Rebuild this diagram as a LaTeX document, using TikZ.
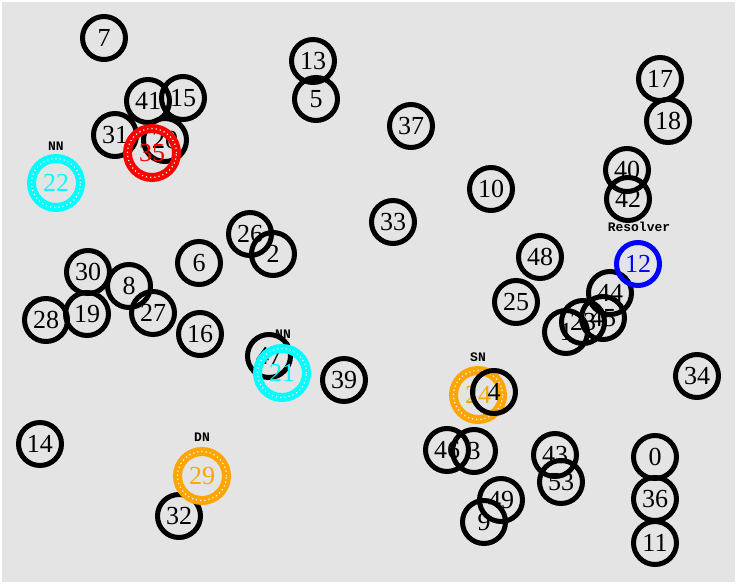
\documentclass[tikz,border=0pt]{standalone}
\usepackage{fontspec}
\setmainfont{Liberation Serif}
\newfontfamily\lblfont{Liberation Mono}
\begin{document}
\begin{tikzpicture}[x=1pt,y=-1pt,
  bn/.style={circle,draw=black,line width=5pt,minimum size=43pt,inner sep=0pt,font=\fontsize{26}{26}\selectfont,text=black},
  cn/.style={circle,draw=#1,line width=9pt,minimum size=49pt,inner sep=0pt,font=\fontsize{26}{26}\selectfont,text=#1,
     postaction={draw=white,line width=1.2pt,dash pattern=on 1.2pt off 3pt}},
  pn/.style={circle,draw=#1,line width=5pt,minimum size=43pt,inner sep=0pt,font=\fontsize{26}{26}\selectfont,text=#1},
  lbl/.style={font=\lblfont\bfseries\fontsize{13}{13}\selectfont,inner sep=0pt,text=black}]
\definecolor{bg}{HTML}{E4E4E4}
\definecolor{cy}{HTML}{00FFFF}
\definecolor{org}{HTML}{FFA500}
\definecolor{blu}{HTML}{0000FF}
\definecolor{rd}{HTML}{FF0000}
\useasboundingbox (0,0) rectangle (737,584);
\fill[white] (0,0) rectangle (737,584);
\fill[bg] (2,2) rectangle (735,582);
% black nodes
\node[bn] (n7) at (104,38) {7};
\node[bn] (n13) at (313,61) {13};
\node[bn] (n5) at (316,99) {5};
\node[bn] (n41) at (148,101) {41};
\node[bn] (n15) at (183,98) {15};
\node[bn] (n31) at (115,135) {31};
\node[bn] (n20) at (165,140) {20};
\node[bn] (n17) at (660,79) {17};
\node[bn] (n18) at (668,121) {18};
\node[bn] (n37) at (411,126) {37};
\node[bn] (n40) at (627,170) {40};
\node[bn] (n42) at (628,199) {42};
\node[bn] (n10) at (491,189) {10};
\node[bn] (n33) at (393,222) {33};
\node[bn] (n26) at (250,234) {26};
\node[bn] (n2) at (273,254) {2};
\node[bn] (n6) at (199,263) {6};
\node[bn] (n48) at (540,257) {48};
\node[bn] (n30) at (88,272) {30};
\node[bn] (n8) at (129,286) {8};
\node[bn] (n19) at (87,314) {19};
\node[bn] (n28) at (46,320) {28};
\node[bn] (n27) at (153,313) {27};
\node[bn] (n16) at (200,334) {16};
\node[bn] (n25) at (516,302) {25};
\node[bn] (n44) at (610,293) {44};
\node[bn] (n1) at (566,332) {1};
\node[bn] (n23) at (583,322) {23};
\node[bn] (n45) at (603,318) {45};
\node[bn] (n47) at (269,356) {47};
\node[bn] (n39) at (344,380) {39};
\node[bn] (n34) at (697,376) {34};
\node[bn] (n14) at (40,444) {14};
\node[bn] (n46) at (447,450) {46};
\node[bn] (n3) at (474,451) {3};
\node[bn] (n43) at (555,455) {43};
\node[bn] (n53) at (561,482) {53};
\node[bn] (n49) at (501,500) {49};
\node[bn] (n9) at (484,522) {9};
\node[bn] (n32) at (179,516) {32};
\node[bn] (n0) at (655,457) {0};
\node[bn] (n36) at (655,499) {36};
\node[bn] (n11) at (655,543) {11};
% coloured nodes
\node[cn=rd] (n35) at (152,153) {35};
\node[cn=cy] (n22) at (56,183) {22};
\node[pn=blu] (n12) at (638,264) {12};
\node[cn=cy] (n21) at (282,373) {21};
\node[cn=org] (n24) at (478,395) {24};
\node[bn] (n4) at (494,392) {4};
\node[cn=org] (n29) at (202,476) {29};
% labels
\node[lbl] (lNN) at (56,146) {NN};
\node[lbl] (lRes) at (639,227) {Resolver};
\node[lbl] (lNN2) at (283,334) {NN};
\node[lbl] (lSN) at (478,357) {SN};
\node[lbl] (lDN) at (202,437) {DN};
\end{tikzpicture}
\end{document}
